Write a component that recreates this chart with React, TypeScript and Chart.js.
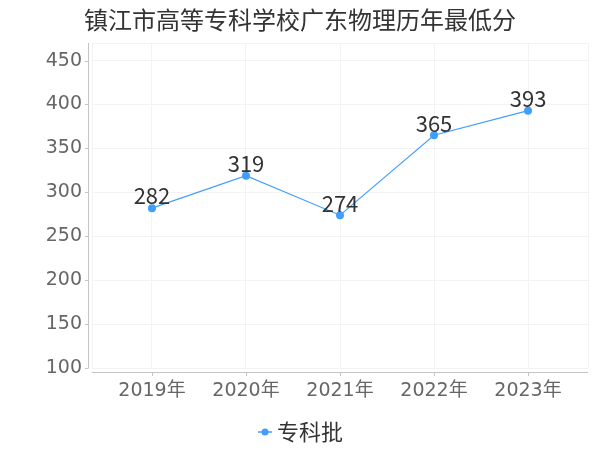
import React, { useEffect, useRef } from "react";
import { Chart, registerables } from "chart.js";

Chart.register(...registerables);

const title = "镇江市高等专科学校广东物理历年最低分";
const seriesName = "专科批";
const years = [2019, 2020, 2021, 2022, 2023];
const scores = [282, 319, 274, 365, 393];
const yTicks = [100, 150, 200, 250, 300, 350, 400, 450];
const yMin = 100;
const yMax = 470;
const xPad = 0.638;

const LINE = "#409EFF";
const TICK_FONT = '"DejaVu Sans", "Noto Sans CJK SC", sans-serif';
const CJK_FONT = '"Noto Sans CJK SC", sans-serif';

const overlay = {
  id: "overlay",
  afterDraw(chart: any) {
    const { ctx, chartArea } = chart;
    const { left, right, top, bottom } = chartArea;
    const xs = chart.scales.x;
    const ys = chart.scales.y;
    ctx.save();
    // title
    ctx.fillStyle = "#333";
    ctx.font = "24px " + CJK_FONT;
    ctx.textAlign = "center";
    ctx.textBaseline = "middle";
    ctx.fillText(title, 300, 20);

    ctx.strokeStyle = "#c4c4c4";
    ctx.lineWidth = 1;
    // y axis line
    ctx.beginPath();
    ctx.moveTo(left - 3.5, top);
    ctx.lineTo(left - 3.5, bottom);
    yTicks.forEach((v) => {
      const py = Math.round(ys.getPixelForValue(v)) + 0.5;
      ctx.moveTo(left - 7, py);
      ctx.lineTo(left - 3.5, py);
    });
    ctx.stroke();
    // x axis line
    ctx.beginPath();
    ctx.moveTo(left, bottom + 4.5);
    ctx.lineTo(right, bottom + 4.5);
    years.forEach((yr) => {
      const px = Math.round(xs.getPixelForValue(yr)) + 0.5;
      ctx.moveTo(px, bottom + 4.5);
      ctx.lineTo(px, bottom + 8);
    });
    ctx.stroke();

    // data labels
    const meta = chart.getDatasetMeta(0);
    ctx.fillStyle = "#333";
    ctx.font = "22px " + CJK_FONT;
    ctx.textAlign = "center";
    ctx.textBaseline = "bottom";
    meta.data.forEach((pt: any, i: number) => {
      ctx.fillText(String(scores[i]), pt.x, pt.y - 1);
    });

    // legend
    const ly = 432;
    ctx.strokeStyle = LINE;
    ctx.lineWidth = 1.5;
    ctx.beginPath();
    ctx.moveTo(258, ly);
    ctx.lineTo(272, ly);
    ctx.stroke();
    ctx.fillStyle = LINE;
    ctx.beginPath();
    ctx.arc(265, ly, 3.5, 0, Math.PI * 2);
    ctx.fill();
    ctx.fillStyle = "#333";
    ctx.font = "22px " + CJK_FONT;
    ctx.textAlign = "left";
    ctx.textBaseline = "middle";
    ctx.fillText(seriesName, 277, ly);
    ctx.restore();
  },
};

export default function App() {
  const ref = useRef<HTMLCanvasElement | null>(null);
  useEffect(() => {
    if (!ref.current) return;
    const chart = new Chart(ref.current, {
      type: "line",
      data: {
        datasets: [
          {
            label: seriesName,
            data: years.map((y, i) => ({ x: y, y: scores[i] })),
            borderColor: LINE,
            backgroundColor: LINE,
            borderWidth: 1.1,
            pointRadius: 4,
            pointBackgroundColor: LINE,
            pointBorderWidth: 0,
            tension: 0,
          },
        ],
      },
      options: {
        animation: false,
        responsive: false,
        maintainAspectRatio: false,
        layout: { padding: { left: 0, right: 12, top: 43, bottom: 0 } },
        plugins: {
          legend: { display: false },
          tooltip: { enabled: false },
          title: { display: false },
        },
        scales: {
          x: {
            type: "linear",
            min: years[0] - xPad,
            max: years[years.length - 1] + xPad,
            afterBuildTicks: (scale: any) => {
              scale.ticks = [years[0] - xPad, ...years, years[years.length - 1] + xPad].map((v) => ({ value: v }));
            },
            afterFit: (scale: any) => {
              scale.height = 82;
            },
            border: { display: false },
            grid: { color: "#f3f3f3", drawTicks: false, lineWidth: 1 },
            ticks: {
              padding: 12,
              color: "#666",
              font: { size: 19, family: TICK_FONT },
              maxRotation: 0,
              autoSkip: false,
              callback: (v: any) => (years.includes(Number(v)) ? v + "年" : ""),
            },
          },
          y: {
            type: "linear",
            min: yMin,
            max: yMax,
            afterBuildTicks: (scale: any) => {
              scale.ticks = [...yTicks, yMax].map((v) => ({ value: v }));
            },
            afterFit: (scale: any) => {
              scale.width = 92;
            },
            border: { display: false },
            grid: { color: "#f3f3f3", drawTicks: false, lineWidth: 1 },
            ticks: {
              padding: 10,
              color: "#666",
              font: { size: 19, family: TICK_FONT },
              autoSkip: false,
              callback: (v: any) => (yTicks.includes(Number(v)) ? String(v) : ""),
            },
          },
        },
      },
      plugins: [overlay],
    });
    return () => chart.destroy();
  }, []);
  return (
    <div style={{ position: "absolute", left: 0, top: 0, width: 600, height: 450, background: "#fff" }}>
      <canvas ref={ref} width={600} height={450} style={{ width: 600, height: 450 }} />
    </div>
  );
}
